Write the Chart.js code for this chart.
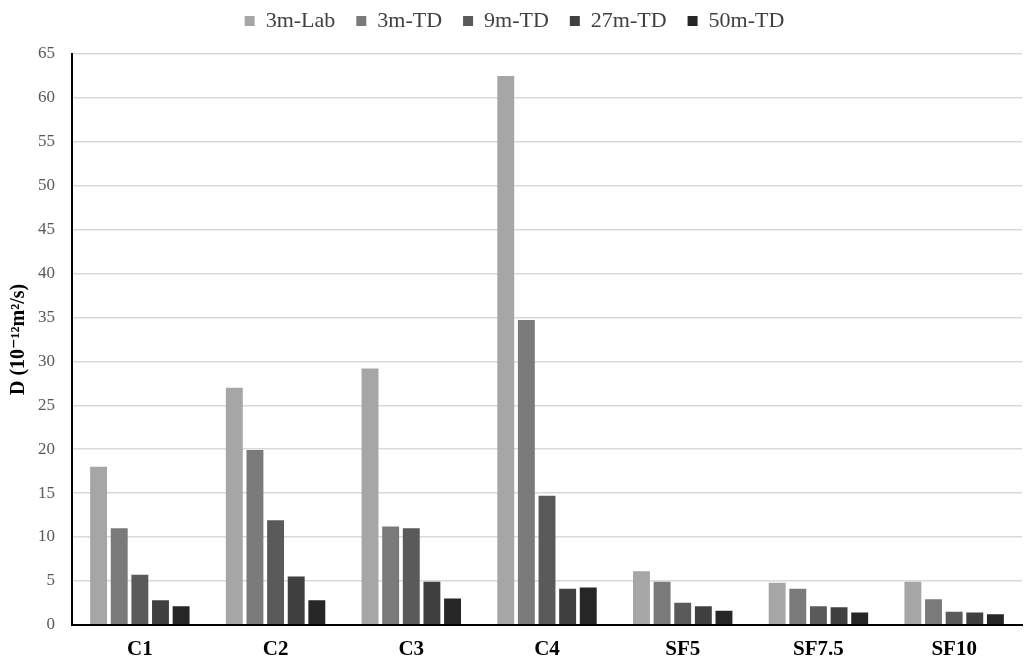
<!DOCTYPE html>
<html><head><meta charset="utf-8">
<script src="https://cdn.jsdelivr.net/npm/chart.js@4"></script>
<style>html,body{margin:0;padding:0;background:#fff}#wrap{width:1025px;height:662px}</style>
</head><body><div id="wrap"><canvas id="c"></canvas></div>
<script>
const categories = ["C1","C2","C3","C4","SF5","SF7.5","SF10"];
const lab3m = [18.0, 27.0, 29.2, 62.5, 6.1, 4.8, 4.9];
const td3m  = [11.0, 19.9, 11.2, 34.7, 4.9, 4.1, 2.9];
const td9m  = [5.7, 11.9, 11.0, 14.7, 2.5, 2.1, 1.5];
const td27m = [2.8, 5.5, 4.9, 4.1, 2.1, 2.0, 1.4];
const td50m = [2.1, 2.8, 3.0, 4.25, 1.6, 1.4, 1.2];
const seriesNames = ["3m-Lab","3m-TD","9m-TD","27m-TD","50m-TD"];
const colors = ["#a6a6a6","#7a7a7a","#5a5a5a","#404040","#262626"];
const yTicks = [0,5,10,15,20,25,30,35,40,45,50,55,60,65];

const serif = "'Liberation Serif','DejaVu Serif',serif";
const data = {
  labels: categories,
  datasets: [lab3m, td3m, td9m, td27m, td50m].map((d,i)=>({
    label: seriesNames[i], data: d, backgroundColor: colors[i], borderWidth: 0,
    categoryPercentage: 0.76, barPercentage: 0.82
  }))
};
const legendGap = {
  id: 'legendGap',
  beforeInit(chart) {
    if (!chart.legend) return;
    const orig = chart.legend.fit;
    chart.legend.fit = function () { orig.call(this); this.height += 12; };
  }
};
new Chart(document.getElementById('c'), {
  type: 'bar',
  data,
  plugins: [legendGap],
  options: {
    responsive: true, maintainAspectRatio: false, animation: false,
    layout: { padding: { left: 7, right: 3, top: -11, bottom: -12 } },
    plugins: {
      legend: {
        position: 'top',
        labels: { font: { family: serif, size: 22 }, color: '#404040', boxWidth: 10, boxHeight: 10, padding: 21 }
      },
      tooltip: { enabled: false }
    },
    scales: {
      x: {
        grid: { display: false, drawTicks: false },
        border: { color: '#000', width: 2 },
        ticks: { font: { family: serif, size: 21, weight: 'bold' }, color: '#000', padding: 12 }
      },
      y: {
        min: 0, max: 65,
        afterBuildTicks: (s) => { s.ticks = yTicks.map(v => ({ value: v })); },
        afterFit: (s) => { s.width = 65; },
        grid: { color: '#d9d9d9', lineWidth: 1.5, drawTicks: false },
        border: { color: '#000', width: 2 },
        ticks: { font: { family: serif, size: 17 }, color: '#595959', padding: 17 },
        title: { display: true, text: 'D (10⁻¹²m²/s)', font: { family: serif, size: 20, weight: 'bold' }, color: '#000', padding: 0 }
      }
    }
  }
});
</script></body></html>
